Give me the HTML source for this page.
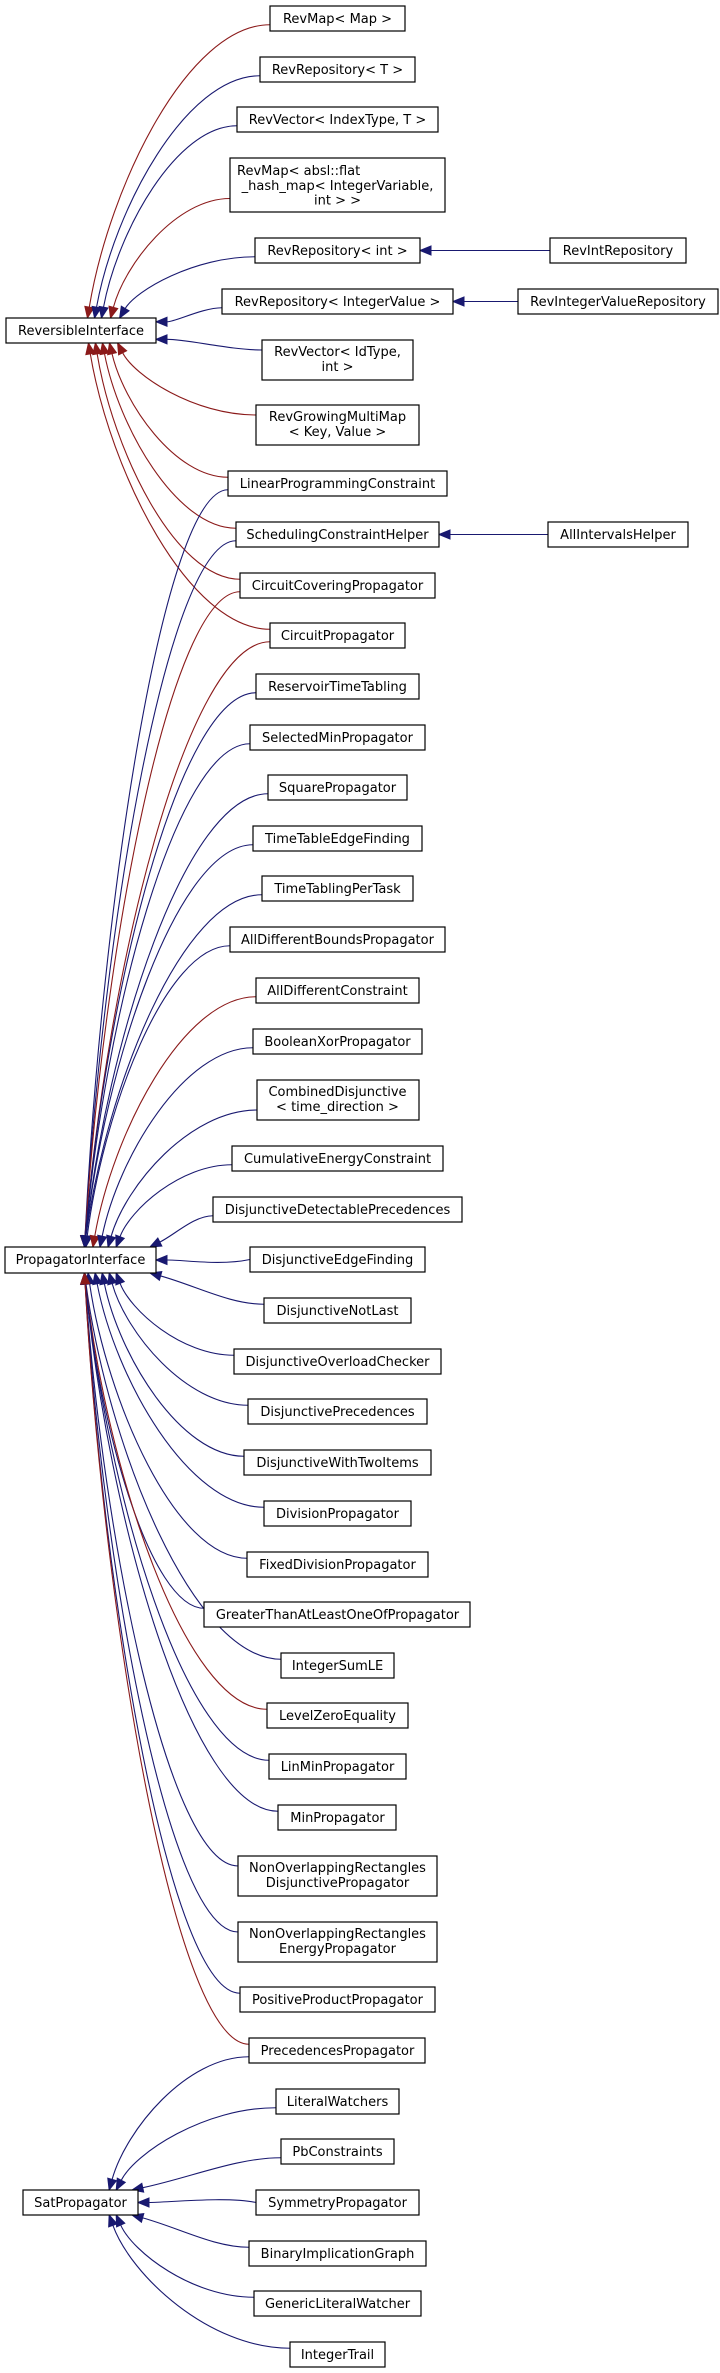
<!DOCTYPE html>
<html><head><meta charset="utf-8">
<style>
html,body{margin:0;padding:0;background:#fff;}
svg{display:block;}
text{font-family:"DejaVu Sans","Liberation Sans",sans-serif;font-size:13px;fill:#000;}
rect{fill:#fff;stroke:#000;stroke-width:1.2;}
</style></head>
<body>
<svg id="s" width="720" height="2373" viewBox="0 0 720 2373" xmlns="http://www.w3.org/2000/svg">
<g id="edges"></g>
<g id="nodes" text-anchor="middle">
<rect id="rm" x="270" y="6" width="135" height="25"/><text x="337.5" y="23">RevMap&lt; Map &gt;</text>
<rect id="rrt" x="260" y="57" width="155" height="25"/><text x="337.5" y="74">RevRepository&lt; T &gt;</text>
<rect id="rvi" x="237" y="107" width="201" height="25"/><text x="337.5" y="124">RevVector&lt; IndexType, T &gt;</text>
<rect id="rma" x="230" y="158" width="215" height="54"/><text x="237" y="175" text-anchor="start">RevMap&lt; absl::flat</text><text x="337.5" y="190">_hash_map&lt; IntegerVariable,</text><text x="337.5" y="204.5">int &gt; &gt;</text>
<rect id="rri" x="255" y="238" width="165" height="25"/><text x="337.5" y="255">RevRepository&lt; int &gt;</text>
<rect id="rir" x="550" y="238" width="136" height="25"/><text x="618" y="255">RevIntRepository</text>
<rect id="rrv" x="222" y="289" width="231" height="25"/><text x="337.5" y="306">RevRepository&lt; IntegerValue &gt;</text>
<rect id="rivr" x="518" y="289" width="200" height="25"/><text x="618" y="306">RevIntegerValueRepository</text>
<rect id="ri" x="6" y="318" width="150" height="25"/><text x="81" y="335">ReversibleInterface</text>
<rect id="rvid" x="262" y="340" width="151" height="40"/><text x="337.5" y="356">RevVector&lt; IdType,</text><text x="337.5" y="371">int &gt;</text>
<rect id="rg" x="256" y="405" width="163" height="40"/><text x="337.5" y="421">RevGrowingMultiMap</text><text x="337.5" y="436">&lt; Key, Value &gt;</text>
<rect id="lp" x="228" y="471" width="219" height="25"/><text x="337.5" y="488">LinearProgrammingConstraint</text>
<rect id="sch" x="236" y="522" width="203" height="25"/><text x="337.5" y="539">SchedulingConstraintHelper</text>
<rect id="aih" x="548" y="522" width="140" height="25"/><text x="618" y="539">AllIntervalsHelper</text>
<rect id="ccp" x="240" y="573" width="195" height="25"/><text x="337.5" y="590">CircuitCoveringPropagator</text>
<rect id="cp" x="270" y="623" width="135" height="25"/><text x="337.5" y="640">CircuitPropagator</text>
<rect id="rtt" x="256" y="674" width="163" height="25"/><text x="337.5" y="691">ReservoirTimeTabling</text>
<rect id="smp" x="250" y="725" width="175" height="25"/><text x="337.5" y="742">SelectedMinPropagator</text>
<rect id="sq" x="268" y="775" width="139" height="25"/><text x="337.5" y="792">SquarePropagator</text>
<rect id="ttef" x="253" y="826" width="169" height="25"/><text x="337.5" y="843">TimeTableEdgeFinding</text>
<rect id="ttpt" x="262" y="876" width="151" height="25"/><text x="337.5" y="893">TimeTablingPerTask</text>
<rect id="adb" x="230" y="927" width="215" height="25"/><text x="337.5" y="944">AllDifferentBoundsPropagator</text>
<rect id="adc" x="256" y="978" width="163" height="25"/><text x="337.5" y="995">AllDifferentConstraint</text>
<rect id="bx" x="253" y="1029" width="169" height="25"/><text x="337.5" y="1046">BooleanXorPropagator</text>
<rect id="cd" x="257" y="1080" width="162" height="40"/><text x="337.5" y="1096">CombinedDisjunctive</text><text x="337.5" y="1111">&lt; time_direction &gt;</text>
<rect id="ce" x="232" y="1146" width="211" height="25"/><text x="337.5" y="1163">CumulativeEnergyConstraint</text>
<rect id="ddp" x="213" y="1197" width="249" height="25"/><text x="337.5" y="1214">DisjunctiveDetectablePrecedences</text>
<rect id="pi" x="5" y="1247" width="151" height="26"/><text x="80.5" y="1264">PropagatorInterface</text>
<rect id="def" x="250" y="1247" width="175" height="25"/><text x="337.5" y="1264">DisjunctiveEdgeFinding</text>
<rect id="dnl" x="264" y="1298" width="147" height="25"/><text x="337.5" y="1315">DisjunctiveNotLast</text>
<rect id="doc" x="234" y="1349" width="207" height="25"/><text x="337.5" y="1366">DisjunctiveOverloadChecker</text>
<rect id="dp" x="248" y="1399" width="179" height="25"/><text x="337.5" y="1416">DisjunctivePrecedences</text>
<rect id="dwt" x="244" y="1450" width="187" height="25"/><text x="337.5" y="1467">DisjunctiveWithTwoItems</text>
<rect id="div" x="264" y="1501" width="147" height="25"/><text x="337.5" y="1518">DivisionPropagator</text>
<rect id="fdiv" x="247" y="1552" width="181" height="25"/><text x="337.5" y="1569">FixedDivisionPropagator</text>
<rect id="gt" x="204" y="1602" width="266" height="25"/><text x="337.5" y="1619">GreaterThanAtLeastOneOfPropagator</text>
<rect id="isl" x="281" y="1653" width="113" height="25"/><text x="337.5" y="1670">IntegerSumLE</text>
<rect id="lze" x="267" y="1703" width="141" height="25"/><text x="337.5" y="1720">LevelZeroEquality</text>
<rect id="lmin" x="269" y="1754" width="137" height="25"/><text x="337.5" y="1771">LinMinPropagator</text>
<rect id="min" x="278" y="1805" width="118" height="25"/><text x="337.5" y="1822">MinPropagator</text>
<rect id="nod" x="238" y="1856" width="199" height="40"/><text x="337.5" y="1872">NonOverlappingRectangles</text><text x="337.5" y="1887">DisjunctivePropagator</text>
<rect id="noe" x="238" y="1922" width="199" height="40"/><text x="337.5" y="1938">NonOverlappingRectangles</text><text x="337.5" y="1953">EnergyPropagator</text>
<rect id="pp" x="240" y="1987" width="195" height="25"/><text x="337.5" y="2004">PositiveProductPropagator</text>
<rect id="prec" x="249" y="2038" width="176" height="25"/><text x="337.5" y="2055">PrecedencesPropagator</text>
<rect id="lw" x="276" y="2089" width="123" height="25"/><text x="337.5" y="2106">LiteralWatchers</text>
<rect id="pb" x="281" y="2139" width="113" height="25"/><text x="337.5" y="2156">PbConstraints</text>
<rect id="sat" x="23" y="2190" width="115" height="25"/><text x="80.5" y="2207">SatPropagator</text>
<rect id="sym" x="256" y="2190" width="163" height="25"/><text x="337.5" y="2207">SymmetryPropagator</text>
<rect id="big" x="249" y="2241" width="177" height="25"/><text x="337.5" y="2258">BinaryImplicationGraph</text>
<rect id="glw" x="254" y="2291" width="167" height="25"/><text x="337.5" y="2308">GenericLiteralWatcher</text>
<rect id="it" x="290" y="2342" width="95" height="25"/><text x="337.5" y="2359">IntegerTrail</text>
</g>
</svg>
<script>
(function(){
var B='#191970',R='#8b1a1a';
function box(id){var e=document.getElementById(id);var x=+e.getAttribute('x'),y=+e.getAttribute('y'),w=+e.getAttribute('width'),h=+e.getAttribute('height');return {x1:x,y1:y,x2:x+w,y2:y+h,cx:x+w/2,cy:y+h/2,h:h};}
var E=[
['rm','ri',R],['rrt','ri',B],['rvi','ri',B],['rma','ri',R],['rri','ri',B],['rrv','ri',B],['rvid','ri',B],['rg','ri',R],['lp','ri',R],['sch','ri',R],['ccp','ri',R],['cp','ri',R],
['lp','pi',B],['sch','pi',B],['ccp','pi',R],['cp','pi',R],['rtt','pi',B],['smp','pi',B],['sq','pi',B],['ttef','pi',B],['ttpt','pi',B],['adb','pi',B],['adc','pi',R],['bx','pi',B],['cd','pi',B],['ce','pi',B],['ddp','pi',B],['def','pi',B],['dnl','pi',B],['doc','pi',B],['dp','pi',B],['dwt','pi',B],['div','pi',B],['fdiv','pi',B],['gt','pi',B],['isl','pi',B],['lze','pi',R],['lmin','pi',B],['min','pi',B],['nod','pi',B],['noe','pi',B],['pp','pi',B],['prec','pi',R],
['prec','sat',B],['lw','sat',B],['pb','sat',B],['sym','sat',B],['big','sat',B],['glw','sat',B],['it','sat',B]
];
var H=[['rir','rri'],['rivr','rrv'],['aih','sch']];
var g=document.getElementById('edges'),out='';
function arrow(tx,ty,qx,qy,col){var dx=tx-qx,dy=ty-qy,l=Math.sqrt(dx*dx+dy*dy)||1;dx/=l;dy/=l;var L=11,W=4.5;var bx=tx-dx*L,by=ty-dy*L;
return {bx:bx,by:by,s:'<polygon points="'+tx+','+ty+' '+(bx-dy*W)+','+(by+dx*W)+' '+(bx+dy*W)+','+(by-dx*W)+'" fill="'+col+'" stroke="'+col+'" stroke-width="1"/>'};}
E.forEach(function(e){var c=box(e[0]),p=box(e[1]),col=e[2];
var dy=c.cy-p.cy,ady=Math.abs(dy),sgn=dy<0?-1:1;
var sx=c.x1,sy=c.cy-sgn*c.h*0.25;
var tx,ty,c1x,c1y,c2x,c2y;
if(ady<8){tx=p.x2;ty=p.cy;c1x=sx-30;c1y=sy;c2x=tx+30;c2y=ty;sy=c.cy;}
else if(ady<40){tx=p.x2;ty=Math.max(p.y1+3,Math.min(p.y2-3,p.cy+dy*0.3));c1x=sx-(sx-tx)*0.3;c1y=sy;c2x=tx+(sx-tx)*0.3;c2y=ty;}
else if(ady<62){tx=p.x2-6;ty=dy<0?p.y1:p.y2;c1x=sx-(sx-tx)*0.3;c1y=sy;c2x=tx+(sx-tx)*0.4;c2y=ty+dy*0.25;}
else{var k=4+36*Math.max(0,1-(ady-70)/260);tx=p.cx+k;ty=dy<0?p.y1:p.y2;var dx=sx-tx;
c1x=sx-dx*0.45;c1y=sy;c2x=tx+dx*0.12;c2y=ty+(sy-ty)*0.45;}
var a=arrow(tx,ty,c2x,c2y,col);
out+='<path d="M'+sx+','+sy+' C'+c1x+','+c1y+' '+c2x+','+c2y+' '+a.bx+','+a.by+'" fill="none" stroke="'+col+'" stroke-width="1.1"/>'+a.s;});
H.forEach(function(h){var c=box(h[0]),p=box(h[1]);var a=arrow(p.x2,p.cy,c.x1,c.cy,B);
out+='<path d="M'+c.x1+','+c.cy+' L'+a.bx+','+a.by+'" stroke="'+B+'" stroke-width="1.1"/>'+a.s;});
g.innerHTML=out;
})();
</script>
</body></html>
